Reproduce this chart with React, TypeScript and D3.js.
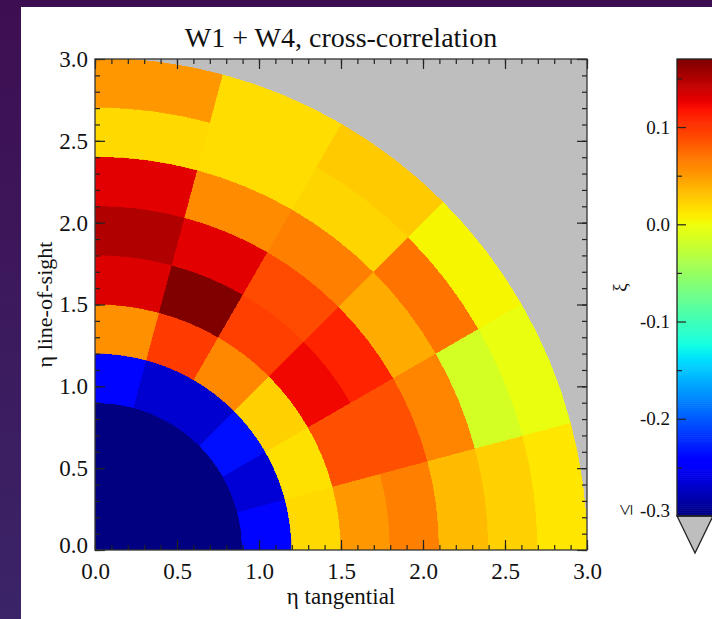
import React, { useEffect, useRef } from 'react';
import * as d3 from 'd3';

// radial bins (eta) and angular bins (degrees from the tangential axis)
const rEdges = [0, 0.3, 0.6, 0.9, 1.2, 1.5, 1.8, 2.1, 2.4, 2.7, 3.0];
const thetaEdges = [0, 15, 30, 45, 60, 75, 90];

// xi per ring, angle bins 0-15 ... 75-90 deg
const ring1 = [-0.4, -0.4, -0.4, -0.4, -0.4, -0.4];
const ring2 = [-0.4, -0.4, -0.4, -0.4, -0.4, -0.4];
const ring3 = [-0.4, -0.4, -0.4, -0.4, -0.4, -0.4];
const ring4 = [-0.24, -0.265, -0.235, -0.268, -0.268, -0.24];
const ring5 = [0.02, 0.016, 0.024, 0.06, 0.098, 0.056];
const ring6 = [0.052, 0.088, 0.124, 0.096, 0.17, 0.132];
const ring7 = [0.064, 0.088, 0.11, 0.09, 0.13, 0.15];
const ring8 = [0.035, 0.062, 0.043, 0.064, 0.058, 0.13];
const ring9 = [0.024, -0.015, 0.07, 0.022, 0.018, 0.02];
const ring10 = [0.013, -0.003, 0.005, 0.027, 0.018, 0.052];
const rings = [ring1, ring2, ring3, ring4, ring5, ring6, ring7, ring8, ring9, ring10];

const axisTicks = [0, 0.5, 1.0, 1.5, 2.0, 2.5, 3.0];
const cbTicks = [0.1, 0.0, -0.1, -0.2];
const cbMinorTicks = [0.15, 0.05, -0.05, -0.15, -0.25];
const cbMin = -0.3;
const cbMax = 0.17;

// jet colour table
const jetStops = [0, 0.11, 0.125, 0.34, 0.35, 0.375, 0.64, 0.65, 0.66, 0.89, 0.91, 1];
const jetColors = ['#000080', '#0000ff', '#0000ff', '#00dbff', '#00e6f8', '#14ffe3',
  '#f0ff08', '#f7f500', '#ffed00', '#ff1200', '#e80000', '#800000'];

const serif = "'Liberation Serif', 'Times New Roman', serif";
const fmt = (v: number) => d3.format('.1f')(v).replace('\u2212', '-');

const App = () => {
  const svgRef = useRef<SVGSVGElement>(null);

  useEffect(() => {
    const W = 712;
    const H = 619;
    const svg = d3.select(svgRef.current).attr('width', W).attr('height', H);
    svg.selectAll('*').remove();

    const defs = svg.append('defs');
    const bg = defs.append('linearGradient').attr('id', 'bg')
      .attr('x1', 0).attr('y1', 0).attr('x2', 0).attr('y2', 1);
    bg.append('stop').attr('offset', '0%').attr('stop-color', '#3e0e52');
    bg.append('stop').attr('offset', '100%').attr('stop-color', '#3b2468');

    svg.append('rect').attr('width', W).attr('height', H).attr('fill', 'url(#bg)');
    svg.append('rect').attr('x', 21).attr('y', 7).attr('width', W - 21).attr('height', H - 7)
      .attr('fill', '#fff');

    const plot = { left: 95, right: 587, top: 59, bottom: 550 };
    const x = d3.scaleLinear().domain([0, 3]).range([plot.left, plot.right]);
    const y = d3.scaleLinear().domain([0, 3]).range([plot.bottom, plot.top]);
    const r = d3.scaleLinear().domain([0, 3]).range([0, plot.right - plot.left]);

    const color = d3.scaleLinear<string>()
      .domain(jetStops.map(t => cbMin + t * (cbMax - cbMin)))
      .range(jetColors)
      .interpolate(d3.interpolateRgb)
      .clamp(true);

    defs.append('clipPath').attr('id', 'plotclip').append('rect')
      .attr('x', plot.left).attr('y', plot.top)
      .attr('width', plot.right - plot.left).attr('height', plot.bottom - plot.top);

    svg.append('rect')
      .attr('x', plot.left).attr('y', plot.top)
      .attr('width', plot.right - plot.left).attr('height', plot.bottom - plot.top)
      .attr('fill', '#bebebe');

    // polar cells
    const cells: { i: number; j: number; v: number }[] = [];
    rings.forEach((ring, i) => ring.forEach((v, j) => cells.push({ i, j, v })));
    const arc = d3.arc<{ i: number; j: number; v: number }>()
      .innerRadius(d => r(rEdges[d.i]))
      .outerRadius(d => r(rEdges[d.i + 1]))
      .startAngle(d => (90 - thetaEdges[d.j + 1]) * Math.PI / 180)
      .endAngle(d => (90 - thetaEdges[d.j]) * Math.PI / 180);

    svg.append('g')
      .attr('clip-path', 'url(#plotclip)')
      .append('g')
      .attr('transform', `translate(${x(0)},${y(0)})`)
      .selectAll('path')
      .data(cells)
      .join('path')
      .attr('d', arc)
      .attr('fill', d => color(d.v))
      .attr('stroke', d => color(d.v))
      .attr('stroke-width', 0.8)
      .attr('shape-rendering', 'crispEdges');

    // axes, ticks inward on all four sides
    const minor = d3.range(0, 3.0001, 0.1);
    const tickStyle = (g: any) => {
      g.select('.domain').remove();
      g.selectAll('line').attr('stroke', '#222').attr('stroke-width', 1.2);
      g.selectAll('text').attr('fill', '#111').style('font-family', serif).style('font-size', '23px');
    };
    svg.append('g').attr('transform', `translate(0,${plot.bottom})`)
      .call(d3.axisBottom(x).tickValues(minor).tickSize(-5).tickFormat(() => '')).call(tickStyle);
    svg.append('g').attr('transform', `translate(0,${plot.bottom})`)
      .call(d3.axisBottom(x).tickValues(axisTicks).tickSize(-10).tickPadding(13).tickFormat(fmt))
      .call(tickStyle);
    svg.append('g').attr('transform', `translate(0,${plot.top})`)
      .call(d3.axisTop(x).tickValues(minor).tickSize(-5).tickFormat(() => '')).call(tickStyle);
    svg.append('g').attr('transform', `translate(0,${plot.top})`)
      .call(d3.axisTop(x).tickValues(axisTicks).tickSize(-10).tickFormat(() => '')).call(tickStyle);
    svg.append('g').attr('transform', `translate(${plot.left},0)`)
      .call(d3.axisLeft(y).tickValues(minor).tickSize(-5).tickFormat(() => '')).call(tickStyle);
    svg.append('g').attr('transform', `translate(${plot.left},0)`)
      .call(d3.axisLeft(y).tickValues(axisTicks).tickSize(-10).tickPadding(7).tickFormat(fmt))
      .call(tickStyle)
      .call((g: any) => g.selectAll('text').filter((d: number) => d === 0).attr('dy', '0.1em'));
    svg.append('g').attr('transform', `translate(${plot.right},0)`)
      .call(d3.axisRight(y).tickValues(minor).tickSize(-5).tickFormat(() => '')).call(tickStyle);
    svg.append('g').attr('transform', `translate(${plot.right},0)`)
      .call(d3.axisRight(y).tickValues(axisTicks).tickSize(-10).tickFormat(() => '')).call(tickStyle);

    svg.append('rect')
      .attr('x', plot.left).attr('y', plot.top)
      .attr('width', plot.right - plot.left).attr('height', plot.bottom - plot.top)
      .attr('fill', 'none').attr('stroke', '#333').attr('stroke-width', 1.3);

    // titles
    svg.append('text')
      .attr('x', (plot.left + plot.right) / 2).attr('y', 47)
      .attr('text-anchor', 'middle')
      .style('font-family', serif).style('font-size', '28px').attr('fill', '#111')
      .text('W1 + W4, cross-correlation');
    svg.append('text')
      .attr('x', (plot.left + plot.right) / 2).attr('y', 604)
      .attr('text-anchor', 'middle')
      .style('font-family', serif).style('font-size', '23px').attr('fill', '#111')
      .text('η tangential');
    svg.append('text')
      .attr('transform', `translate(52,${(plot.top + plot.bottom) / 2}) rotate(-90)`)
      .attr('text-anchor', 'middle')
      .style('font-family', serif).style('font-size', '22px').attr('fill', '#111')
      .text('η line-of-sight');

    // colour bar
    const cb = { x: 677, w: 36, top: 59, bottom: 516 };
    const c = d3.scaleLinear().domain([cbMin, cbMax]).range([cb.bottom, cb.top]);
    const step = 0.002;
    svg.append('g').selectAll('rect')
      .data(d3.range(cbMin, cbMax, step))
      .join('rect')
      .attr('x', cb.x).attr('width', cb.w)
      .attr('y', d => c(Math.min(d + step, cbMax)))
      .attr('height', d => c(d) - c(Math.min(d + step, cbMax)) + 0.6)
      .attr('fill', d => color(d + step / 2));
    svg.append('path')
      .attr('d', `M${cb.x},${cb.bottom} L${cb.x + cb.w},${cb.bottom} L${cb.x + cb.w / 2},${cb.bottom + 37} Z`)
      .attr('fill', '#bebebe').attr('stroke', '#222').attr('stroke-width', 1.3);
    const cbStyle = (g: any) => {
      g.select('.domain').remove();
      g.selectAll('line').attr('stroke', '#222').attr('stroke-width', 1.2);
      g.selectAll('text').attr('fill', '#111').style('font-family', serif).style('font-size', '19px');
    };
    svg.append('g').attr('transform', `translate(${cb.x},0)`)
      .call(d3.axisLeft(c).tickValues(cbMinorTicks).tickSize(-5).tickFormat(() => '')).call(cbStyle);
    svg.append('g').attr('transform', `translate(${cb.x},0)`)
      .call(d3.axisLeft(c).tickValues(cbTicks).tickSize(-9).tickPadding(7).tickFormat(fmt))
      .call(cbStyle);
    svg.append('rect')
      .attr('x', cb.x).attr('y', cb.top).attr('width', cb.w).attr('height', cb.bottom - cb.top)
      .attr('fill', 'none').attr('stroke', '#222').attr('stroke-width', 1.3);

    svg.append('text')
      .attr('x', cb.x - 7).attr('y', c(cbMin) + 1)
      .attr('text-anchor', 'end')
      .style('font-family', serif).style('font-size', '19px').attr('fill', '#111')
      .text(fmt(cbMin));
    svg.append('text')
      .attr('transform', `translate(632,${c(cbMin) - 6}) rotate(-90)`)
      .attr('text-anchor', 'middle')
      .style('font-family', serif).style('font-size', '21px').attr('fill', '#111')
      .text('≤');
    svg.append('text')
      .attr('transform', `translate(626,${(cb.top + cb.bottom) / 2}) rotate(-90)`)
      .attr('text-anchor', 'middle')
      .style('font-family', serif).style('font-size', '19px').attr('fill', '#111')
      .text('ξ');
  }, []);

  return (
    <div style={{ position: 'absolute', left: 0, top: 0 }}>
      <svg ref={svgRef} style={{ display: 'block' }}></svg>
    </div>
  );
};

export default App;
